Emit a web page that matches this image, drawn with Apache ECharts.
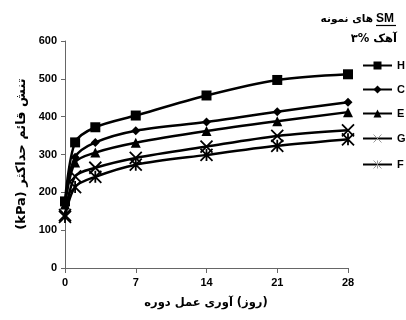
<!DOCTYPE html>
<html>
<head>
<meta charset="utf-8">
<script src="https://cdn.jsdelivr.net/npm/echarts@6/dist/echarts.min.js"></script>
<style>
  html, body { margin: 0; padding: 0; background: #fff; }
  #chart { width: 406px; height: 320px; }
</style>
</head>
<body>
<div id="chart"></div>
<script>
// curing time (days)
var days = [0, 1, 3, 7, 14, 21, 28];
var xTicks = [0, 7, 14, 21, 28];
var yTicks = [0, 100, 200, 300, 400, 500, 600];

// max vertical stress (kPa)
var seriesNames = ['H', 'C', 'E', 'G', 'F'];
var H = [176, 332, 372, 403, 456, 497, 512];
var C = [172, 293, 332, 363, 386, 413, 438];
var E = [168, 279, 305, 331, 362, 388, 412];
var G = [140, 242, 265, 291, 321, 349, 364];
var F = [135, 214, 241, 273, 299, 323, 340];

// titles, word by word in the left-to-right order seen in the picture
var yTitleWords = ['(kPa)', 'حداکثر', 'قائم', 'تنش'];
var xTitleWords = ['دوره', 'عمل', 'آوری', '(روز)'];
var head1Words = ['نمونه', 'های'];
var head1Latin = 'SM';
var head2Words = ['۳%', 'آهک'];

var arab = 'DejaVu Sans';
var latin = 'Liberation Sans';

var measureCtx = document.createElement('canvas').getContext('2d');
function textWidth(t, font) {
  measureCtx.font = font;
  return measureCtx.measureText(t).width;
}

// lays words out left to right, each one as its own text, so the canvas
// bidi rules can not swap them round
function wordRow(words, font, startX, y) {
  var gap = textWidth(' ', font);
  var x = startX;
  var out = [];
  words.forEach(function (w) {
    out.push({
      type: 'text', x: x, y: y,
      style: { text: w, font: font, fill: '#000', textAlign: 'left', textVerticalAlign: 'middle' }
    });
    x += textWidth(w, font) + gap;
  });
  return out;
}
function rowWidth(words, font) {
  var gap = textWidth(' ', font);
  var w = 0;
  words.forEach(function (t, i) { w += textWidth(t, font) + (i ? gap : 0); });
  return w;
}

function pairs(vals) {
  var out = [];
  for (var i = 0; i < days.length; i++) out.push([days[i], vals[i]]);
  return out;
}

var xMark = 'path://M0,0L10,10M10,0L0,10';
var starMark = 'path://M0,0L10,10M10,0L0,10M5,0L5,10';

function line(name, vals, symbol, size, stroked) {
  return {
    name: name,
    type: 'line',
    data: pairs(vals),
    smooth: 0.3,
    symbol: symbol,
    symbolSize: size,
    showSymbol: true,
    lineStyle: { color: '#000', width: 2.5 },
    itemStyle: stroked
      ? { color: 'rgba(0,0,0,0)', borderColor: '#000', borderWidth: 1.8 }
      : { color: '#000', borderWidth: 0 },
    emphasis: { disabled: true },
    z: 3
  };
}

var yFont = 'bold 13px "' + arab + '"';
var xFont = 'bold 11.5px "' + arab + '"';
var h1Font = 'bold 10.5px "' + arab + '"';
var h2Font = 'bold 11.5px "' + arab + '"';

var yW = rowWidth(yTitleWords, yFont);
var xW = rowWidth(xTitleWords, xFont);
var h1W = rowWidth(head1Words, h1Font);
var h2W = rowWidth(head2Words, h2Font);

var graphics = [];
// y title, turned to read bottom to top
graphics.push({
  type: 'group', x: 22, y: 154, rotation: Math.PI / 2,
  children: wordRow(yTitleWords, yFont, -yW / 2, 0)
});
// x title
wordRow(xTitleWords, xFont, 206 - xW / 2, 303).forEach(function (g) { graphics.push(g); });
// heading, top right
wordRow(head1Words, h1Font, 373 - h1W, 19).forEach(function (g) { graphics.push(g); });
graphics.push({
  type: 'text', x: 376, y: 19,
  style: { text: head1Latin, font: 'bold 12px "' + latin + '"', fill: '#000', textAlign: 'left', textVerticalAlign: 'middle' }
});
graphics.push({
  type: 'line', shape: { x1: 376, y1: 25.5, x2: 396, y2: 25.5 },
  style: { stroke: '#000', lineWidth: 1.2 }
});
wordRow(head2Words, h2Font, 397 - h2W, 39).forEach(function (g) { graphics.push(g); });

var chart = echarts.init(document.getElementById('chart'), null, { renderer: 'canvas' });

var option = {
  animation: false,
  backgroundColor: '#fff',
  grid: { left: 65, right: 58, top: 41, bottom: 52, containLabel: false },
  xAxis: {
    type: 'value',
    min: 0,
    max: 28,
    interval: 7,
    axisLine: { lineStyle: { color: '#666', width: 1 } },
    axisTick: { show: true, length: 5, lineStyle: { color: '#666' } },
    axisLabel: {
      fontFamily: latin, fontWeight: 'bold', fontSize: 11, color: '#000', margin: 9,
      formatter: function (v) { return xTicks.indexOf(v) >= 0 ? String(v) : ''; }
    },
    splitLine: { show: false }
  },
  yAxis: {
    type: 'value',
    min: 0,
    max: 600,
    interval: 100,
    axisLine: { show: true, lineStyle: { color: '#666', width: 1 } },
    axisTick: { show: true, length: 4, lineStyle: { color: '#666' } },
    axisLabel: {
      fontFamily: latin, fontWeight: 'bold', fontSize: 11, color: '#000', margin: 8,
      formatter: function (v) { return yTicks.indexOf(v) >= 0 ? String(v) : ''; }
    },
    splitLine: { show: false }
  },
  legend: {
    orient: 'vertical',
    left: 362,
    top: 60,
    padding: 0,
    itemWidth: 29,
    itemHeight: 10,
    itemGap: 13,
    textStyle: { fontFamily: latin, fontWeight: 'bold', fontSize: 11, color: '#000' },
    data: seriesNames.map(function (n) {
      if (n === 'G' || n === 'F') {
        return { name: n, itemStyle: { color: 'none', borderColor: '#999', borderWidth: 1 } };
      }
      return { name: n };
    })
  },
  graphic: graphics,
  series: [
    line('H', H, 'rect', 10, false),
    line('C', C, 'diamond', 9, false),
    line('E', E, 'triangle', 10, false),
    line('G', G, xMark, 12, true),
    line('F', F, starMark, 12, true)
  ]
};

chart.setOption(option);
</script>
</body>
</html>
